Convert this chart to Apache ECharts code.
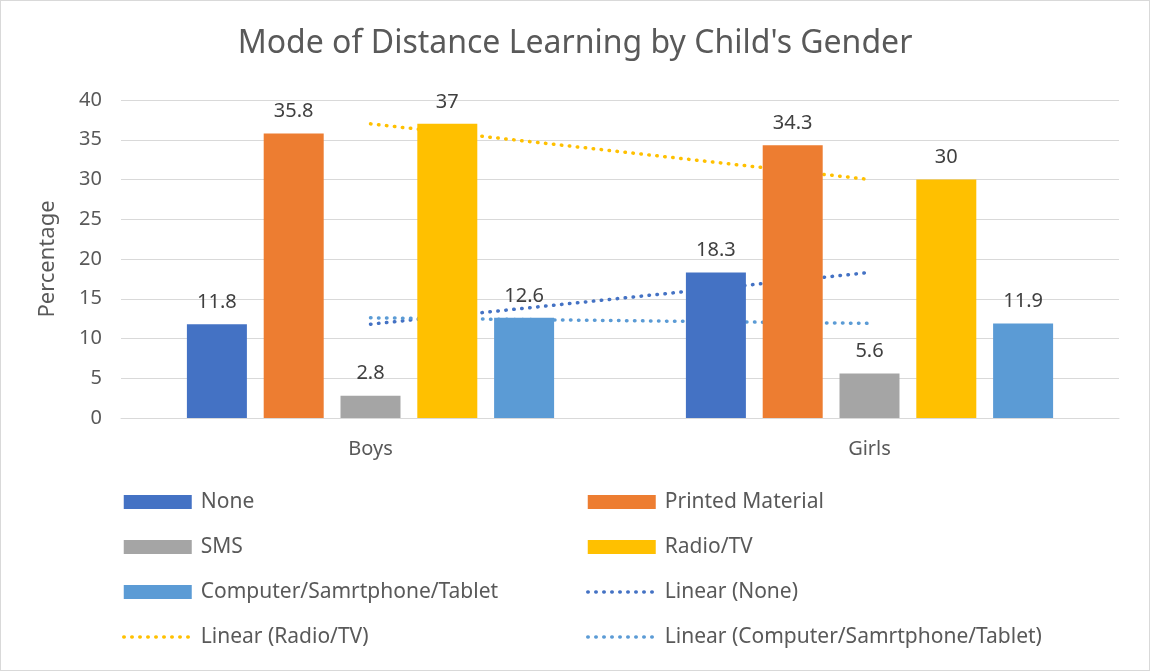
<!DOCTYPE html>
<html>
<head>
<meta charset="utf-8">
<script src="https://cdn.jsdelivr.net/npm/echarts@6/dist/echarts.min.js"></script>
<style>
    html, body { margin: 0; padding: 0; background: #fff; }
    #chart { width: 1150px; height: 671px; box-sizing: border-box; border: 1px solid #d9d9d9; }
</style>
</head>
<body>
<div id="chart"></div>
<script>
// data
var categories = ['Boys', 'Girls'];
var noneVals = [11.8, 18.3];
var printedVals = [35.8, 34.3];
var smsVals = [2.8, 5.6];
var radioVals = [37, 30];
var computerVals = [12.6, 11.9];
// trend lines (two points -> line passes through them)
var trendNone = [11.8, 18.3];
var trendRadio = [37, 30];
var trendComputer = [12.6, 11.9];

var FONT = '"Noto Sans", "Liberation Sans", Arial, sans-serif';
var TXT = '#595959';

function barSeries(name, data, color) {
    return {
        name: name,
        type: 'bar',
        data: data,
        barWidth: 60,
        barGap: '28%',
        z: 3,
        itemStyle: { color: color },
        label: {
            show: true,
            position: 'top',
            distance: 12,
            color: '#404040',
            fontSize: 20,
            fontFamily: FONT
        }
    };
}

function trendSeries(name, data, color) {
    return {
        name: name,
        type: 'line',
        data: data,
        symbol: 'none',
        z: 1,
        silent: true,
        lineStyle: { color: color, width: 3.5, type: [0.5, 7.5], cap: 'round' },
        // hide the legend marker circle, keep only the dotted line
        itemStyle: { color: color, opacity: 0 }
    };
}

var chart = echarts.init(document.getElementById('chart'));

var legendCommon = {
    orient: 'vertical',
    itemWidth: 68,
    itemHeight: 14,
    itemGap: 21,
    lineStyle: { width: 3.5, cap: 'round' },
    textStyle: { color: TXT, fontSize: 21, fontFamily: FONT, lineHeight: 24, padding: [0, 0, 0, 4] },
    selectedMode: false
};

chart.setOption({
    animation: false,
    title: {
        text: "Mode of Distance Learning by Child's Gender",
        left: 'center',
        top: 22,
        textStyle: { color: TXT, fontSize: 32, fontWeight: 'normal', fontFamily: FONT }
    },
    legend: [
        Object.assign({}, legendCommon, {
            left: 116, top: 484,
            data: [
                { name: 'None', icon: 'rect' },
                { name: 'SMS', icon: 'rect' },
                { name: 'Computer/Samrtphone/Tablet', icon: 'rect' },
                'Linear (Radio/TV)'
            ]
        }),
        Object.assign({}, legendCommon, {
            left: 580, top: 484,
            data: [
                { name: 'Printed Material', icon: 'rect' },
                { name: 'Radio/TV', icon: 'rect' },
                'Linear (None)',
                'Linear (Computer/Samrtphone/Tablet)'
            ]
        })
    ],
    grid: { left: 120, right: 30, top: 99, bottom: 252 },
    xAxis: {
        type: 'category',
        data: categories,
        axisLine: { lineStyle: { color: '#d9d9d9', width: 1 } },
        axisTick: { show: false },
        axisLabel: { color: TXT, fontSize: 20, fontFamily: FONT, margin: 21 }
    },
    yAxis: {
        type: 'value',
        min: 0,
        max: 40,
        interval: 5,
        name: 'Percentage',
        nameLocation: 'middle',
        nameGap: 62,
        nameTextStyle: { color: TXT, fontSize: 22, fontFamily: FONT },
        axisLine: { show: false },
        axisTick: { show: false },
        axisLabel: { color: TXT, fontSize: 20, fontFamily: FONT, margin: 19 },
        splitLine: { lineStyle: { color: '#d9d9d9', width: 1 } }
    },
    series: [
        barSeries('None', noneVals, '#4472C4'),
        barSeries('Printed Material', printedVals, '#ED7D31'),
        barSeries('SMS', smsVals, '#A5A5A5'),
        barSeries('Radio/TV', radioVals, '#FFC000'),
        barSeries('Computer/Samrtphone/Tablet', computerVals, '#5B9BD5'),
        trendSeries('Linear (None)', trendNone, '#4472C4'),
        trendSeries('Linear (Radio/TV)', trendRadio, '#FFC000'),
        trendSeries('Linear (Computer/Samrtphone/Tablet)', trendComputer, '#5B9BD5')
    ]
});
</script>
</body>
</html>
